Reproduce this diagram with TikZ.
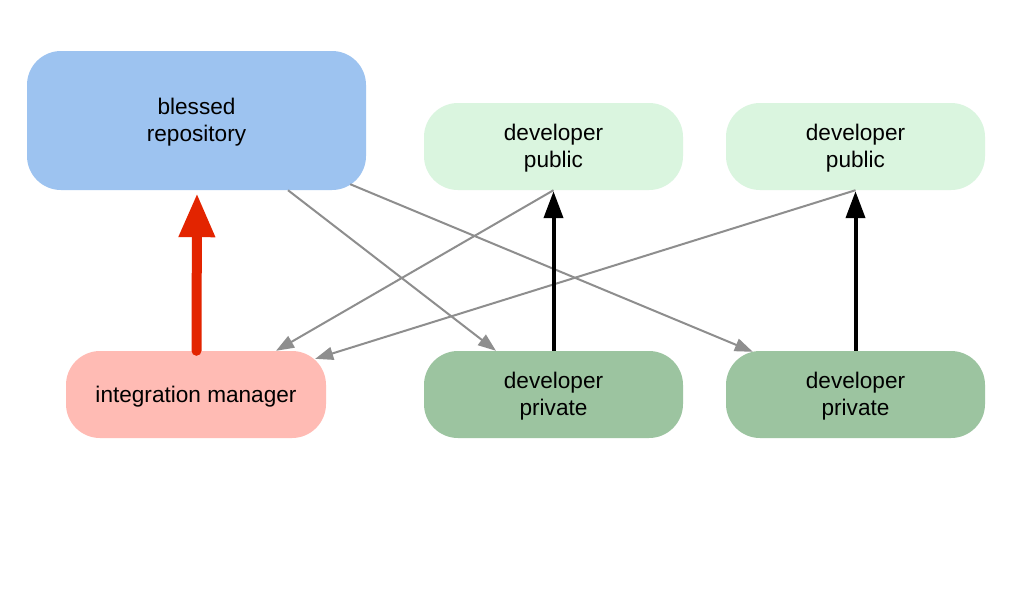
\documentclass[tikz,border=0pt]{standalone}
\usepackage{fontspec}
\setmainfont{Liberation Sans}
\usetikzlibrary{arrows.meta}
\definecolor{blessedblue}{HTML}{9DC3F0}
\definecolor{pubgreen}{HTML}{DAF5DF}
\definecolor{privgreen}{HTML}{9CC4A0}
\definecolor{mgrpink}{HTML}{FFBBB4}
\definecolor{pushred}{HTML}{E32400}
\definecolor{flowgray}{HTML}{8E8E8E}
\tikzset{
  boxtext/.style={align=center, inner sep=0pt, yshift=-2pt,
    font=\fontsize{22.6}{27}\selectfont, text=black},
  box/.style={rounded corners=34pt, inner sep=0pt},
  smallbox/.style={box, minimum width=259pt, minimum height=87pt},
  flow/.style={draw=flowgray, line width=2pt,
    -{Triangle[length=18pt,width=13pt]}},
  push/.style={draw=black, line width=4pt,
    -{Triangle[length=27pt,width=19pt]}},
  redpush/.style={draw=pushred, line width=10pt, line cap=round,
    -{Triangle[length=44pt,width=34pt,line cap=butt,line join=miter,sharp]}},
}
\begin{document}
\begin{tikzpicture}[x=1pt,y=-1pt]
  \useasboundingbox[fill=white] (0,0) rectangle (1024,598);

  \node[box, fill=blessedblue, minimum width=339pt, minimum height=139pt,
    label={[boxtext]center:{blessed\\repository}}] (blessed) at (196.5,120.5) {};
  \node[smallbox, fill=pubgreen,
    label={[boxtext]center:{developer\\public}}] (pub1) at (553.5,146.5) {};
  \node[smallbox, fill=pubgreen,
    label={[boxtext]center:{developer\\public}}] (pub2) at (855.5,146.5) {};
  \node[smallbox, fill=mgrpink, minimum width=260pt,
    label={[boxtext]center:{integration manager}}] (mgr) at (196,394.5) {};
  \node[smallbox, fill=privgreen,
    label={[boxtext]center:{developer\\private}}] (priv1) at (553.5,394.5) {};
  \node[smallbox, fill=privgreen,
    label={[boxtext]center:{developer\\private}}] (priv2) at (855.5,394.5) {};

  % pulls between repositories
  \draw[flow] ([xshift=91.5pt]blessed.south) -- ([xshift=-57.5pt]priv1.north);
  \draw[flow] ([xshift=-16pt,yshift=6pt]blessed.south east)
    -- ([xshift=27pt,yshift=-1pt]priv2.north west);
  \draw[flow] (pub1.south) -- ([xshift=80pt]mgr.north);
  \draw[flow] (pub2.south) -- ([xshift=-11pt,yshift=-8pt]mgr.north east);

  % pushes
  \draw[push] (priv1.north) -- ([yshift=-1pt]pub1.south);
  \draw[push] (priv2.north) -- ([yshift=-1pt]pub2.south);
  \draw[redpush] ([xshift=0.5pt]mgr.north)
    -- ([xshift=0.5pt,yshift=-3pt]blessed.south);
\end{tikzpicture}
\end{document}
